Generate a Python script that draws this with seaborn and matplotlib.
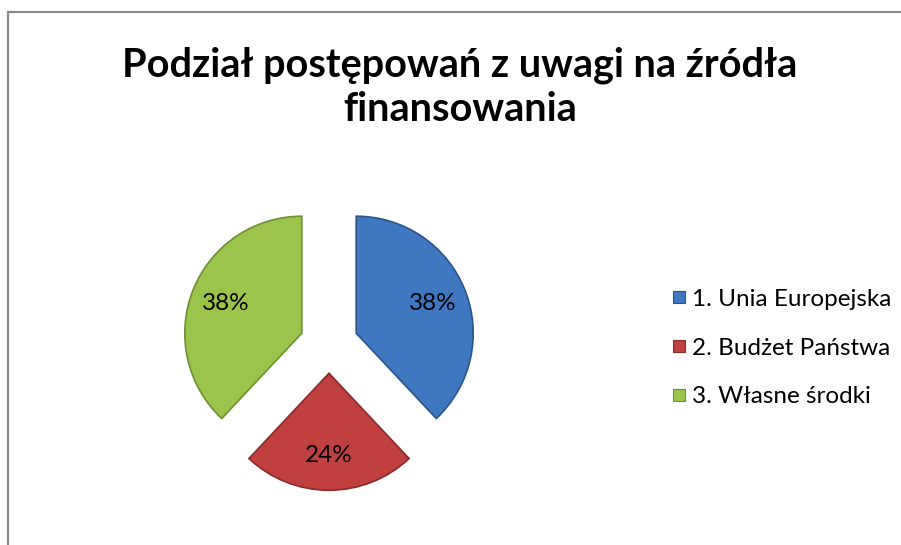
import matplotlib
matplotlib.use("Agg")
import matplotlib.pyplot as plt
from matplotlib.patches import Rectangle
from matplotlib.lines import Line2D
import seaborn as sns

# data
categories = ["1. Unia Europejska", "2. Budżet Państwa", "3. Własne środki"]
shares = [38, 24, 38]
colors = ["#3F78C0", "#C0403F", "#9BC44B"]
edge_colors = ["#2A5487", "#8A2B2A", "#6E8F33"]
title = "Podział postępowań z uwagi na źródła\nfinansowania"

sns.set_theme(style="white")
plt.rcParams['font.family'] = ['Lato', 'DejaVu Sans']
plt.rcParams['text.color'] = 'black'

W, H = 901, 545
fig = plt.figure(figsize=(W / 100, H / 100), dpi=100)
fig.patch.set_facecolor("white")

# chart frame (clipped at right and bottom like the screenshot)
fig.patches.append(Rectangle((8 / W, -0.5), 2.0, 1.5 - 12 / H,
                             transform=fig.transFigure, fill=False,
                             edgecolor="#8a8a8a", linewidth=1.6))

# pie axes: one data unit = r pixels
r = 117
cx, cy = 329, 344
half = 1.45 * r
ax = fig.add_axes([(cx - half) / W, (H - cy - half) / H, 2 * half / W, 2 * half / H])
wedges, texts, autotexts = ax.pie(
    shares, colors=colors, startangle=90, counterclock=False,
    explode=[0.25, 0.25, 0.25], autopct=lambda p: f"{p:.0f}%",
    pctdistance=0.7, textprops=dict(fontsize=17.5, color="black"),
    wedgeprops=dict(linewidth=1.2))
for w, ec in zip(wedges, edge_colors):
    w.set_edgecolor(ec)
ax.set_xlim(-1.45, 1.45)
ax.set_ylim(-1.45, 1.45)
ax.set_aspect("equal")
ax.axis("off")

fig.text(460 / W, 1 - 87 / H, title, ha="center", va="center",
         fontsize=28.5, fontweight="bold", linespacing=1.25, color="black")

handles = [Line2D([0], [0], marker="s", linestyle="none", markersize=9,
                  markerfacecolor=c, markeredgecolor=e, markeredgewidth=0.8)
           for c, e in zip(colors, edge_colors)]
fig.legend(handles, categories, loc="center left",
           bbox_to_anchor=(657 / W, 1 - 348 / H), frameon=False,
           fontsize=17.5, labelspacing=1.15, handletextpad=0.15,
           handlelength=0.8, borderpad=0, labelcolor="black")

fig.savefig("out.png", dpi=100)
